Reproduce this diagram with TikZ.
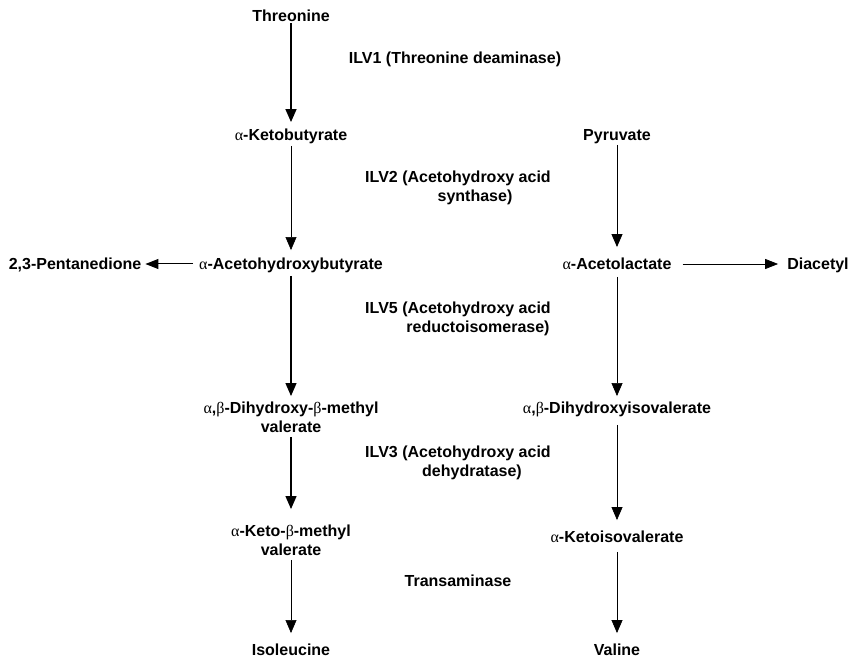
\documentclass[tikz,border=0pt]{standalone}
\usepackage{fontspec}
\setmainfont{Liberation Sans}
\newfontfamily\grk{Liberation Serif}
\usetikzlibrary{arrows.meta}
\newcommand{\myal}{{\grk\mdseries α}}
\newcommand{\mybe}{{\grk\mdseries β}}
\tikzset{
  lbl/.style={inner sep=0pt, text height=11.5pt, text depth=0pt, anchor=center,
    font=\fontsize{16}{18}\selectfont\bfseries},
  arr/.style={-{Triangle[width=11pt,length=13pt]}, line width=0.7pt},
  harr/.style={-{Triangle[width=10pt,length=13pt]}, line width=1pt}
}
\begin{document}
\begin{tikzpicture}[x=1pt,y=-1pt]
\useasboundingbox (0,0) rectangle (860,660);
% left column
\node[lbl] (thr) at (291,16) {Threonine};
\node[lbl] (kb) at (291,135) {\myal-Ketobutyrate};
\node[lbl] (ahb) at (291,264) {\myal-Acetohydroxybutyrate};
\node[lbl] (pent) at (75,264) {2,3-Pentanedione};
\node[lbl] (dhm1) at (291,408) {\myal,\mybe-Dihydroxy-\mybe-methyl};
\node[lbl] (dhm2) at (291,427) {valerate};
\node[lbl] (km1) at (291,531) {\myal-Keto-\mybe-methyl};
\node[lbl] (km2) at (291,550) {valerate};
\node[lbl] (ile) at (291,650) {Isoleucine};
% right column
\node[lbl] (pyr) at (617,135) {Pyruvate};
\node[lbl] (al) at (617,264) {\myal-Acetolactate};
\node[lbl] (dia) at (818,264) {Diacetyl};
\node[lbl] (dhi) at (617,408) {\myal,\mybe-Dihydroxyisovalerate};
\node[lbl] (kiv) at (617,537) {\myal-Ketoisovalerate};
\node[lbl] (val) at (617,650) {Valine};
% enzymes
\node[lbl] (e1) at (455,58) {ILV1 (Threonine deaminase)};
\node[lbl] (e2a) at (458,177) {ILV2 (Acetohydroxy acid};
\node[lbl] (e2b) at (475,196) {synthase)};
\node[lbl] (e5a) at (458,308) {ILV5 (Acetohydroxy acid};
\node[lbl] (e5b) at (478,327) {reductoisomerase)};
\node[lbl] (e3a) at (458,452) {ILV3 (Acetohydroxy acid};
\node[lbl] (e3b) at (472,471) {dehydratase)};
\node[lbl] (tr) at (458,581) {Transaminase};
% arrows left
\draw[arr, line width=1.5pt, shorten <=1.5pt, shorten >=7pt] (thr.south) -- (kb.north);
\draw[arr, line width=0.6pt, shorten <=5pt, shorten >=8pt] (kb.south) -- (ahb.north);
\draw[arr, line width=1.2pt, shorten <=6pt, shorten >=6pt] (ahb.south) -- (dhm1.north);
\draw[arr, line width=1.2pt, shorten <=4pt, shorten >=16pt] (dhm2.south) -- (km1.north);
\draw[arr, line width=0.6pt, shorten <=4pt, shorten >=11pt] (km2.south) -- (ile.north);
% arrows right
\draw[arr, line width=0.9pt, shorten <=4pt, shorten >=11pt] (pyr.south) -- (al.north);
\draw[arr, shorten <=7pt, shorten >=6pt] (al.south) -- (dhi.north);
\draw[arr, shorten <=11pt, shorten >=11pt] (dhi.south) -- (kiv.north);
\draw[arr, shorten <=9pt, shorten >=11pt] (kiv.south) -- (val.north);
% side arrows
\draw[harr, shorten <=6pt, shorten >=4pt] (ahb.west) -- (pent.east);
\draw[harr, line width=0.8pt, shorten <=11pt, shorten >=9pt] (al.east) -- (dia.west);
\end{tikzpicture}
\end{document}
